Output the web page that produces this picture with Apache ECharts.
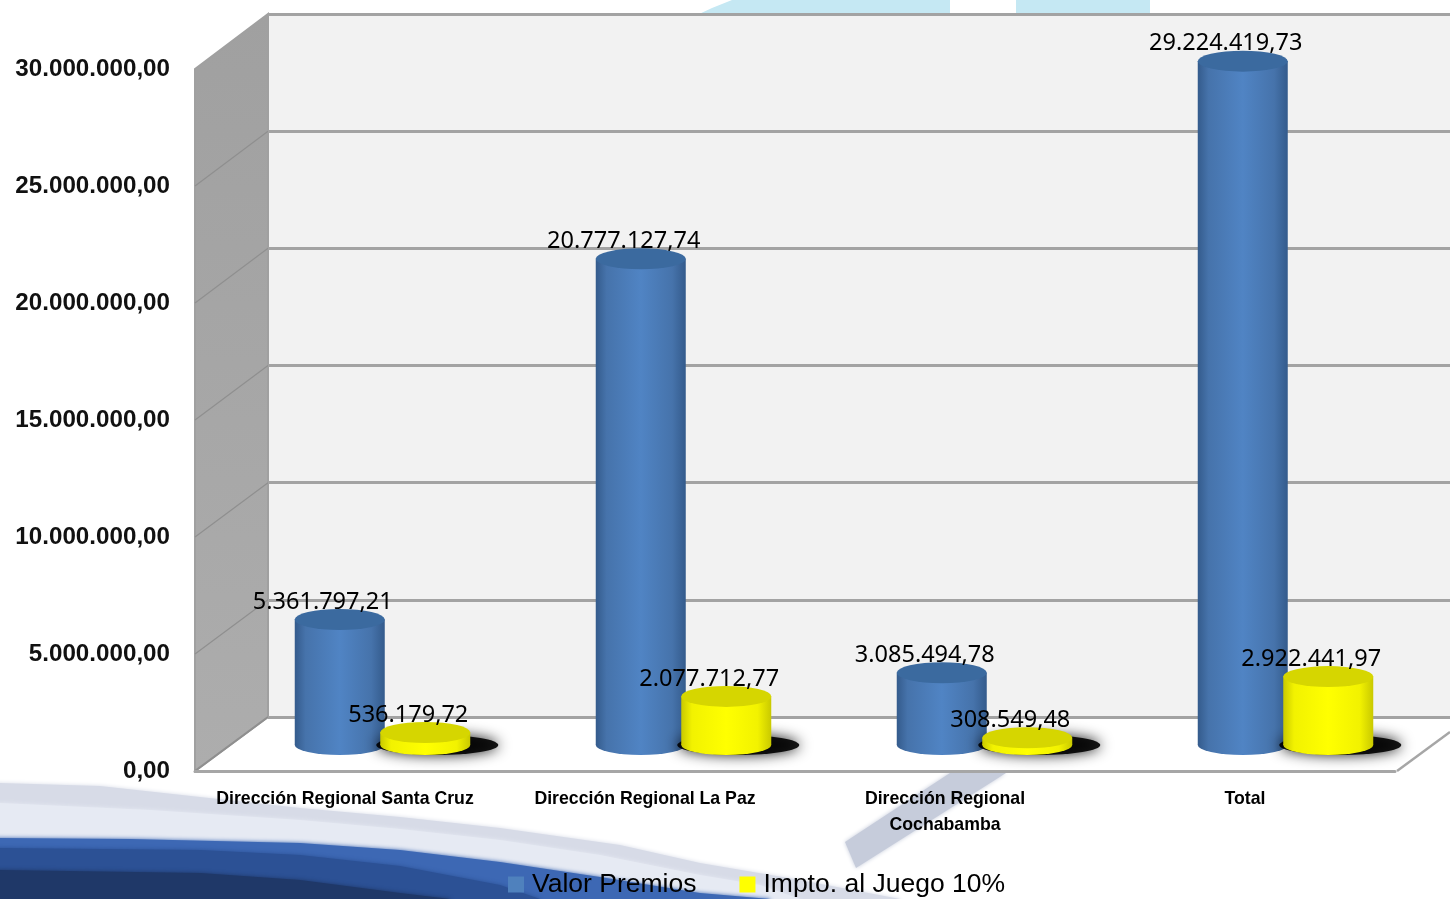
<!DOCTYPE html>
<html><head><meta charset="utf-8">
<style>html,body{margin:0;padding:0;background:#fff}#c{width:1450px;height:899px}</style>
<script src="https://cdn.jsdelivr.net/npm/echarts@6/dist/echarts.min.js"></script>
</head><body><div id="c"></div>
<script>
const categories = ['Dirección Regional Santa Cruz','Dirección Regional La Paz','Dirección Regional\nCochabamba','Total'];
const valorPremios = [5361797.21, 20777127.74, 3085494.78, 29224419.73];
const imptoJuego = [536179.72, 2077712.77, 308549.48, 2922441.97];
const yTicks = [0, 5000000, 10000000, 15000000, 20000000, 25000000, 30000000];

const fmt = v => {
  const [a, b] = Number(v).toFixed(2).split('.');
  return a.replace(/\B(?=(\d{3})+$)/g, '.') + ',' + b;
};
const hGrad = (a, b, c) => ({type:'linear',x:0,y:0,x2:1,y2:0,colorStops:[
  {offset:0,color:a},{offset:.12,color:b},{offset:.5,color:c},{offset:.85,color:b},{offset:1,color:a}]});
const blueFill = hGrad('#345b8c','#4673ab','#5084c4');
const yellowFill = hGrad('#c9c900','#f2f200','#ffff00');
const OFF = 42.75;
const BIG = 'Noto Sans, Roboto, sans-serif';
const BOLD = 'Liberation Sans, Arial, sans-serif';

const label = {show:true, position:'top', distance:6, color:'#000', fontFamily:BIG, fontSize:23.5,
  formatter:p => fmt(p.value)};

const cap = (name, data, dx, fill, z, lblDx) => ({
  type:'pictorialBar', name, data, xAxisIndex:2, yAxisIndex:2, barWidth:90, z,
  symbol:'circle', symbolSize:[90,21], symbolPosition:'end', symbolOffset:[dx,'-50%'],
  itemStyle:{color:fill}, label:{...label, offset:[lblDx,11]}, silent:true
});
const base = (name, data, dx, fill, z) => ({
  type:'pictorialBar', name, data, xAxisIndex:2, yAxisIndex:2, barWidth:90, z,
  symbol:'circle', symbolSize:[90,20], symbolPosition:'start', symbolOffset:[dx,'50%'],
  itemStyle:{color:fill}, silent:true
});

const option = {
  animation:false,
  backgroundColor:'#fff',
  grid:[
    {left:195, top:69, width:1200, height:702},
    {left:268, top:14, width:1182, height:703},
    {left:232, top:43, width:1204, height:702}
  ],
  xAxis:[
    {type:'category', gridIndex:0, data:categories, boundaryGap:true,
      axisLine:{lineStyle:{color:'#a6a6a6',width:3}}, axisTick:{show:false},
      axisLabel:{fontFamily:BOLD, fontWeight:'bold', fontSize:17.7, color:'#000', margin:15, lineHeight:26, interval:0}},
    {type:'category', gridIndex:1, data:categories, show:false},
    {type:'category', gridIndex:2, data:categories, show:false}
  ],
  yAxis:[
    {type:'value', gridIndex:0, min:0, max:30000000, interval:5000000,
      axisLine:{show:false}, axisTick:{show:false}, splitLine:{show:false},
      axisLabel:{fontFamily:BOLD, fontWeight:'bold', fontSize:24.2, color:'#111', margin:25, padding:[8,0,0,0], formatter:fmt}},
    {type:'value', gridIndex:1, min:0, max:30000000, interval:5000000,
      axisLine:{show:false}, axisTick:{show:false}, axisLabel:{show:false},
      splitLine:{show:true, lineStyle:{color:'#a3a3a3', width:3}}},
    {type:'value', gridIndex:2, min:0, max:30000000, show:false, splitLine:{show:false}}
  ],
  legend:{
    left:503, top:866, itemWidth:16, itemHeight:16, itemGap:43, icon:'rect',
    textStyle:{fontFamily:BOLD, fontSize:26.5, color:'#000', padding:[0,0,0,3]},
    data:[{name:'Valor Premios',itemStyle:{color:'#4f81bd'}},{name:'Impto. al Juego 10%',itemStyle:{color:'#ffff00'}}]
  },
  series:[
    base('baseA', valorPremios, -OFF, blueFill, 2),
    {type:'bar', name:'Valor Premios', data:valorPremios, xAxisIndex:2, yAxisIndex:2, barWidth:90, barGap:'-5%', z:2,
      itemStyle:{color:blueFill}, silent:true},
    {type:'bar', name:'Impto. al Juego 10%', data:imptoJuego, xAxisIndex:2, yAxisIndex:2, barWidth:90, barGap:'-5%', z:6,
      itemStyle:{color:yellowFill}, silent:true},
    cap('capA', valorPremios, -OFF, '#3b6a9f', 3, -OFF-17),
    {type:'pictorialBar', name:'shadow', data:imptoJuego, xAxisIndex:2, yAxisIndex:2, barWidth:90, z:4,
      symbol:'circle', symbolSize:[122,20], symbolPosition:'start', symbolOffset:[OFF+12,'50%'],
      itemStyle:{color:'rgba(0,0,0,.9)', shadowBlur:14, shadowColor:'#000'}, silent:true},
    base('baseB', imptoJuego, OFF, yellowFill, 5),
    cap('capB', imptoJuego, OFF, '#d6d600', 7, OFF-17)
  ]
};

const chart = echarts.init(document.getElementById('c'), null, {renderer:'canvas'});
chart.setOption(option);

function band(edge, fill){
  return {type:'polygon', z:-5, silent:true,
    shape:{points:[[-20,edge[0][1]],...edge,[edge[edge.length-1][0],930],[-20,930]]},
    style:{fill, shadowBlur:4, shadowColor:fill}};
}
const grayEdge = [[0,783],[100,786],[200,797],[300,808],[400,817],[500,828],[620,845],[700,863],[800,880],[900,899]];
const paleEdge = [[0,803],[150,810],[300,820],[400,829],[500,840],[600,855],[700,875],[760,885],[800,899]];
const blueEdge = [[0,838],[130,839],[300,843],[400,850],[500,862],[600,877],[700,893],[770,899]];
const midEdge = [[0,848],[200,850],[300,855],[400,866],[500,885],[540,899]];
const darkEdge = [[0,870],[200,873],[300,880],[400,893],[450,899]];

const P = (yAxisIndex, v) => chart.convertToPixel({yAxisIndex}, v);
const wallLines = yTicks.slice(1,-1).map(t => ({
  type:'line', z:-1, silent:true,
  shape:{x1:195, y1:P(0,t), x2:268, y2:P(1,t)},
  style:{stroke:'#8f8f8f', lineWidth:1.2}
}));

chart.setOption({graphic:{elements:[
  {type:'polygon', z:-6, silent:true, shape:{points:[[697,15],[712,8],[732,0],[950,0],[950,15]]}, style:{fill:'#c5e8f3'}},
  {type:'polygon', z:-6, silent:true, shape:{points:[[1016,15],[1016,0],[1150,0],[1150,15]]}, style:{fill:'#c5e8f3'}},
  band(grayEdge, '#d7dbe7'),
  band(paleEdge, '#e6eaf3'),
  {type:'polygon', z:-5, silent:true, shape:{points:[[845,842],[950,773],[1006,773],[856,868]]},
    style:{fill:'#c6ccdb', shadowBlur:4, shadowColor:'#c6ccdb'}},
  band(blueEdge, '#3d68b4'),
  band(midEdge, '#2c5195'),
  band(darkEdge, '#1f3868'),
  {type:'rect', z:-3, silent:true, shape:{x:268,y:14,width:1182,height:703}, style:{fill:'#f2f2f2'}},
  {type:'polygon', z:-3, silent:true, shape:{points:[[268,717],[1450,717],[1450,732],[1397,771],[195,771]]}, style:{fill:'#fff'}},
  {type:'polygon', z:-2, silent:true, shape:{points:[[195,69],[268,14],[268,717],[195,771]]},
    style:{fill:{type:'linear',x:0,y:0,x2:0,y2:1,colorStops:[{offset:0,color:'#a0a0a0'},{offset:1,color:'#adadad'}]}, stroke:'#a0a0a0', lineWidth:2}},
  {type:'line', z:-1, silent:true, shape:{x1:268,y1:717,x2:195,y2:771}, style:{stroke:'#8f8f8f', lineWidth:2}},
  {type:'line', z:-1, silent:true, shape:{x1:1397,y1:771,x2:1450,y2:732}, style:{stroke:'#a6a6a6', lineWidth:2.5}},
  ...wallLines
]}});
</script></body></html>
